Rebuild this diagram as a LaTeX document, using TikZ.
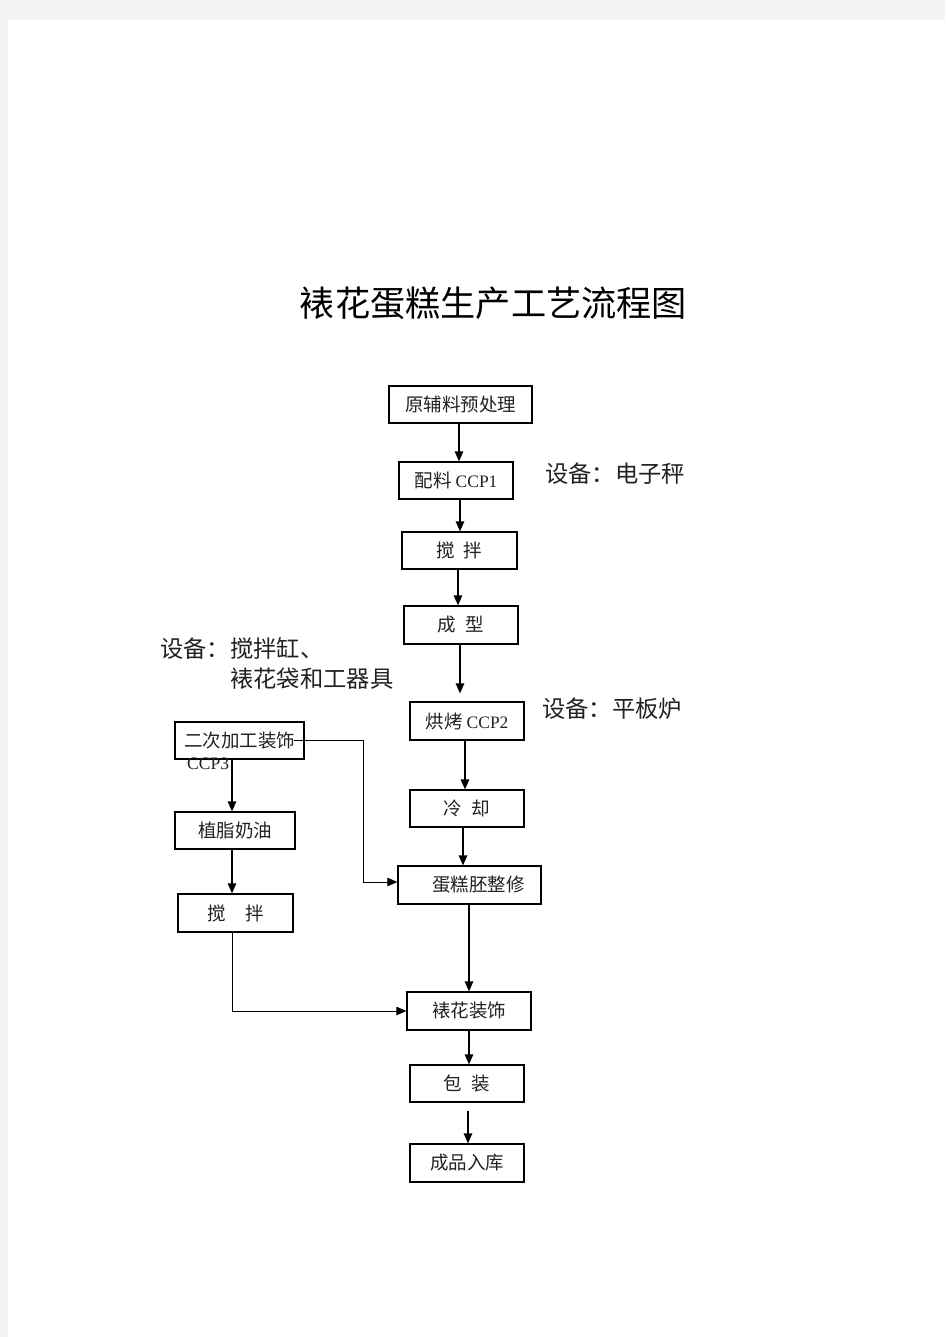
\documentclass[tikz,border=0pt]{standalone}
\usepackage{fontspec}
\setmainfont{Liberation Serif}
\newfontfamily\cjk{Noto Sans CJK SC}
\usetikzlibrary{arrows.meta,calc}
\definecolor{pagegray}{HTML}{F4F4F4}
\definecolor{txt}{HTML}{222222}
\newcommand{\lat}[1]{{\rmfamily\fontsize{17.5}{20}\selectfont #1}}
\begin{document}
\begin{tikzpicture}[x=1pt,y=-1pt,
  box/.style={draw=black,line width=1.2pt,inner sep=0pt,text=txt,
    font=\cjk\fontsize{18.5}{20}\selectfont},
  arr/.style={-{Triangle[length=10pt,width=8.5pt]},line width=1.2pt},
  thinarr/.style={arr,line width=0.9pt},
  lbl/.style={font=\cjk\fontsize{23.3}{30}\selectfont,inner sep=0pt,text=txt,align=left},
  ttl/.style={font=\cjk\fontsize{35.2}{40}\selectfont,inner sep=0pt,text=black}]
\useasboundingbox (0,0) rectangle (945,1337);
\fill[pagegray] (0,0) rectangle (945,1337);
\fill[white] (8,20) rectangle (945,1337);

% title
\node[ttl] (title) at (493.5,303) {裱花蛋糕生产工艺流程图};

% main column
\node[box,minimum width=143pt,minimum height=37pt] (b1) at (460.5,404.5) {原辅料预处理};
\node[box,minimum width=114pt,minimum height=37pt] (b2) at (456,480.5) {配料 \lat{CCP1}};
\node[box,minimum width=115pt,minimum height=37pt] (b3) at (459.5,550.5) {搅\hspace{9pt}拌};
\node[box,minimum width=114pt,minimum height=38pt] (b4) at (461,625) {成\hspace{10pt}型};
\node[box,minimum width=114pt,minimum height=38pt] (b5) at (467,721) {烘烤 \lat{CCP2}};
\node[box,minimum width=114pt,minimum height=37pt] (b6) at (467,808.5) {冷\hspace{10pt}却};
\node[box,minimum width=143pt,minimum height=38pt] (b7) at (469.5,885) {\hspace*{18pt}蛋糕胚整修};
\node[box,minimum width=124pt,minimum height=38pt] (b8) at (469,1011) {裱花装饰};
\node[box,minimum width=114pt,minimum height=37pt] (b9) at (467,1083.5) {包\hspace{10pt}装};
\node[box,minimum width=114pt,minimum height=38pt] (b10) at (467,1163) {成品入库};

% left column
\node[box,minimum width=129pt,minimum height=37pt] (b11) at (239.5,740.5) {二次加工装饰};
\node[inner sep=0pt,anchor=west,text=txt,font=\rmfamily\fontsize{17.5}{20}\selectfont] (ccp3) at (187,764) {CCP3};
\node[box,minimum width=120pt,minimum height=37pt] (b12) at (235,830.5) {植脂奶油};
\node[box,minimum width=115pt,minimum height=38pt] (b13) at (235.5,913) {搅\hspace{19pt}拌};

% labels
\node[lbl,anchor=west] (l1) at (545,474) {设备：电子秤};
\node[lbl,anchor=north west] (l2) at (160,637) {设备：搅拌缸、\\\hspace*{70pt}裱花袋和工器具};
\node[lbl,anchor=west] (l3) at (542,709) {设备：平板炉};

% connectors main column
\draw[arr] ([xshift=-1.5pt]b1.south) -- ([xshift=-1.5pt]b1.south |- b2.north);
\draw[arr] ([xshift=4pt]b2.south) -- ([xshift=4pt]b2.south |- b3.north);
\draw[arr] ([xshift=-1.5pt]b3.south) -- ([xshift=-1.5pt]b3.south |- b4.north);
\draw[arr,shorten >=8pt] ([xshift=-1pt]b4.south) -- ([xshift=-1pt]b4.south |- b5.north);
\draw[arr] ([xshift=-2pt]b5.south) -- ([xshift=-2pt]b5.south |- b6.north);
\draw[arr] ([xshift=-4pt]b6.south) -- ([xshift=-4pt]b6.south |- b7.north);
\draw[arr] ([xshift=-0.5pt]b7.south) -- ([xshift=-0.5pt]b7.south |- b8.north);
\draw[arr] (b8.south) -- (b8.south |- b9.north);
\draw[arr,shorten <=8pt] ([xshift=1pt]b9.south) -- ([xshift=1pt]b9.south |- b10.north);

% connectors left column
\draw[arr] ([xshift=-7.5pt]b11.south) -- ([xshift=-7.5pt]b11.south |- b12.north);
\draw[arr] ([xshift=-3pt]b12.south) -- ([xshift=-3pt]b12.south |- b13.north);
\draw[thinarr] ([xshift=-11pt]b11.east) -- ++(70pt,0) |- ([yshift=3pt]b7.west);
\draw[thinarr] ([xshift=-3.5pt]b13.south) |- (b8.west);
\end{tikzpicture}
\end{document}
